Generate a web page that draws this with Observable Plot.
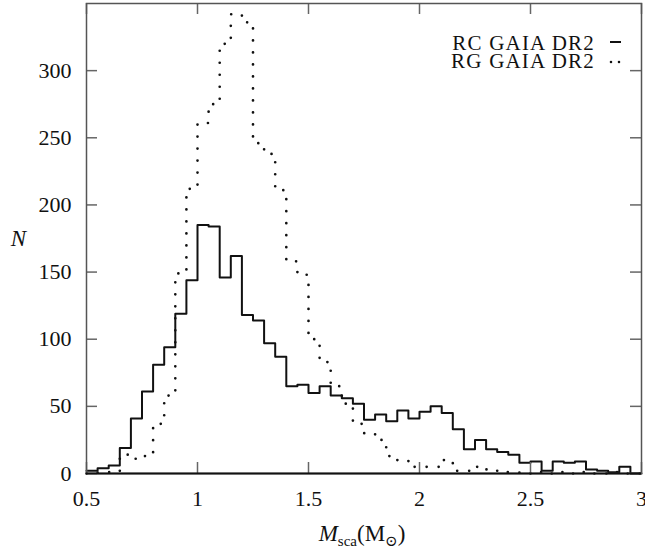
<!DOCTYPE html>
<html><head><meta charset="utf-8">
<script src="https://cdn.jsdelivr.net/npm/d3@7"></script>
<script src="https://cdn.jsdelivr.net/npm/@observablehq/plot@0.6"></script>
<style>
html,body{margin:0;padding:0;background:#fff;}
#chart{width:645px;height:554px;}
#chart svg, #chart svg text, #chart svg tspan { font-family: "Liberation Serif", "DejaVu Serif", serif !important; }
</style></head><body><div id="chart"></div>
<script>
// Histogram bins: 0.5 .. 3.0 in steps of 0.05 (50 bins)
const binStart = 0.5, binWidth = 0.05;
const rcCounts = [2,4,6,19,41,61,81,94,119,144,
  185,184,146,162,118,114,97,87,65,66,
  60,65,58,56,52,40,44,39,47,41,
  46,50,45,33,18,25,18,16,14,8,
  9,2,9,8,9,3,2,1,5,0];
const rgCounts = [0,1,1,14,11,13,37,58,149,212,
  261,275,320,342,336,246,238,211,158,148,
  100,83,65,52,37,30,25,13,10,5,
  5,5,10,2,2,5,3,1,1,0,
  1,0,1,0,1,0,0,1,0,0];
const xTicks = [0.5,1,1.5,2,2.5,3];
const xTickLabels = ["0.5","1","1.5","2","2.5","3"];
const yTicks = [0,50,100,150,200,250,300];
const seriesNames = ["RC GAIA DR2","RG GAIA DR2"];

function steps(counts){
  const pts = counts.map((c,i)=>({x: binStart + i*binWidth, y: c}));
  pts.push({x: binStart + counts.length*binWidth, y: counts[counts.length-1]});
  return pts;
}

const W=645,H=554, mL=86, mR=4, mT=3, mB=81;
const innerW = W-mL-mR, innerH = H-mT-mB;
const tickLen = 11;
const font = "'Liberation Serif', 'DejaVu Serif', serif";

const svg = Plot.plot({
  width: W, height: H, marginLeft: mL, marginRight: mR, marginTop: mT, marginBottom: mB,
  style: {fontFamily: font, fontSize: "22px", color: "#111", background: "#fff", overflow: "visible"},
  x: {domain: [0.5,3]},
  y: {domain: [0,350]},
  marks: [
    Plot.line(steps(rgCounts), {x:"x", y:"y", curve:"step-after", stroke:"#111", strokeWidth:2.7, strokeDasharray:"0,12", strokeLinecap:"round"}),
    Plot.line(steps(rcCounts), {x:"x", y:"y", curve:"step-after", stroke:"#111", strokeWidth:2}),
    Plot.tickX(xTicks, {x: d=>d, stroke:"#666", strokeWidth:1.5, insetTop: innerH - tickLen}),
    Plot.tickX(xTicks, {x: d=>d, stroke:"#666", strokeWidth:1.5, insetBottom: innerH - tickLen}),
    Plot.tickY(yTicks, {y: d=>d, stroke:"#666", strokeWidth:1.5, insetRight: innerW - tickLen}),
    Plot.tickY(yTicks, {y: d=>d, stroke:"#666", strokeWidth:1.5, insetLeft: innerW - tickLen}),
    Plot.frame({stroke:"#555", strokeWidth:1.5}),
    Plot.ruleY([0], {stroke:"#111", strokeWidth:2}),
    Plot.axisX(xTicks, {tickSize:0, tickPadding:17, tickFormat: d => xTickLabels[xTicks.indexOf(d)], fontSize:22, label:null}),
    Plot.axisY(yTicks, {tickSize:0, tickPadding:15, fontSize:22, label:null}),
    Plot.text(["N"], {frameAnchor:"left", dx:-68, fontStyle:"italic", fontSize:23, textAnchor:"middle"})
  ]
});
document.getElementById("chart").appendChild(svg);

const s = d3.select(svg);
// x-axis title
const xl = s.append("text").attr("x", 362).attr("y", 541).attr("text-anchor","middle")
  .style("font-size","23px").attr("fill","#111");
xl.append("tspan").attr("font-style","italic").text("M");
xl.append("tspan").attr("font-size","15px").attr("dy", 5).text("sca");
xl.append("tspan").attr("dy", -5).text("(M");
xl.append("tspan").attr("font-size","15px").attr("dy", 5).text("\u2299");
xl.append("tspan").attr("dy", -5).text(")");

// legend
const leg = s.append("g").style("font-size","21px").attr("fill","#111");
leg.append("text").attr("x",595).attr("y",50).attr("text-anchor","end").style("letter-spacing","1.2px").text(seriesNames[0]);
leg.append("text").attr("x",595).attr("y",68).attr("text-anchor","end").style("letter-spacing","1.2px").text(seriesNames[1]);
leg.append("line").attr("x1",610).attr("x2",621).attr("y1",42).attr("y2",42).attr("stroke","#111").attr("stroke-width",2);
leg.append("line").attr("x1",611).attr("x2",620).attr("y1",62).attr("y2",62).attr("stroke","#111").attr("stroke-width",2.6)
  .attr("stroke-dasharray","0,8").attr("stroke-linecap","round");
</script></body></html>
